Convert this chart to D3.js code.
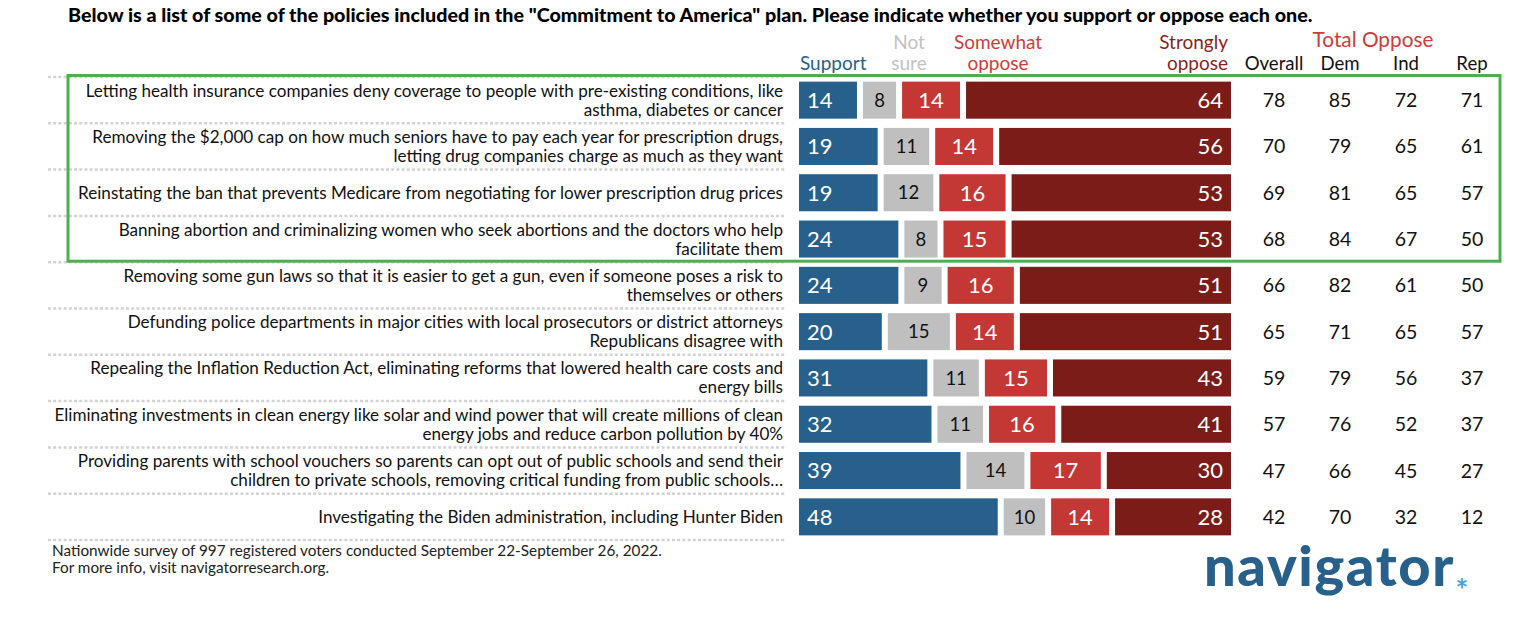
<!DOCTYPE html>
<html>
<head>
<meta charset="utf-8">
<script src="https://cdn.jsdelivr.net/npm/d3@7"></script>
<style>
  html, body { margin: 0; padding: 0; background: #fff; }
  svg { display: block; font-family: Lato, "Open Sans", sans-serif; }
</style>
</head>
<body>
<svg id="chart" width="1536" height="625"></svg>
<script>
// ---------- DATA ----------
const labels = [
  ["Letting health insurance companies deny coverage to people with pre-existing conditions, like", "asthma, diabetes or cancer"],
  ["Removing the $2,000 cap on how much seniors have to pay each year for prescription drugs,", "letting drug companies charge as much as they want"],
  ["Reinstating the ban that prevents Medicare from negotiating for lower prescription drug prices"],
  ["Banning abortion and criminalizing women who seek abortions and the doctors who help", "facilitate them"],
  ["Removing some gun laws so that it is easier to get a gun, even if someone poses a risk to", "themselves or others"],
  ["Defunding police departments in major cities with local prosecutors or district attorneys", "Republicans disagree with"],
  ["Repealing the Inflation Reduction Act, eliminating reforms that lowered health care costs and", "energy bills"],
  ["Eliminating investments in clean energy like solar and wind power that will create millions of clean", "energy jobs and reduce carbon pollution by 40%"],
  ["Providing parents with school vouchers so parents can opt out of public schools and send their", "children to private schools, removing critical funding from public schools…"],
  ["Investigating the Biden administration, including Hunter Biden"]
];
const support   = [14, 19, 19, 24, 24, 20, 31, 32, 39, 48];
const notSure   = [8, 11, 12, 8, 9, 15, 11, 11, 14, 10];
const somewhat  = [14, 14, 16, 15, 16, 14, 15, 16, 17, 14];
const strongly  = [64, 56, 53, 53, 51, 51, 43, 41, 30, 28];
const overall   = [78, 70, 69, 68, 66, 65, 59, 57, 47, 42];
const dem       = [85, 79, 81, 84, 82, 71, 79, 76, 66, 70];
const ind       = [72, 65, 65, 67, 61, 65, 56, 52, 45, 32];
const rep       = [71, 61, 57, 50, 50, 57, 37, 37, 27, 12];
const seriesNames = ["Support", "Not sure", "Somewhat oppose", "Strongly oppose"];
const oppColumns = ["Overall", "Dem", "Ind", "Rep"];
const title = 'Below is a list of some of the policies included in the "Commitment to America" plan. Please indicate whether you support or oppose each one.';
const footer = ["Nationwide survey of 997 registered voters conducted September 22-September 26, 2022.", "For more info, visit navigatorresearch.org."];

// ---------- STYLE ----------
const colors = { "Support": "#27608a", "Not sure": "#bfbfbf", "Somewhat oppose": "#c33734", "Strongly oppose": "#7b1c18" };
const headColors = { "Support": "#27608a", "Not sure": "#c2c2c2", "Somewhat oppose": "#cf3b3b", "Strongly oppose": "#8a1f1b" };
const textColors = { "Support": "#fff", "Not sure": "#111", "Somewhat oppose": "#fff", "Strongly oppose": "#fff" };

const svg = d3.select("#chart");
const n = labels.length;
const rows = d3.range(n);

const barLeft = 799, barRight = 1231, gap = 6;
const x = d3.scaleLinear().domain([0, 100]).range([0, barRight - barLeft - 3 * gap]);
const y = d3.scaleBand().domain(rows).range([77, 540]).paddingInner(0.2).paddingOuter(0.1);
const cy = i => y(i) + y.bandwidth() / 2;

// Title
svg.append("text").attr("x", 68).attr("y", 22)
  .attr("font-size", 19.7).attr("font-weight", 900).attr("fill", "#000")
  .text(title);

// Dotted separators
const lineYs = rows.map(i => y(i) - y.step() * y.paddingInner() / 2).concat([y(n - 1) + y.bandwidth() + y.step() * y.paddingInner() / 2]);
svg.selectAll("line.sep").data(lineYs).join("line")
  .attr("class", "sep")
  .attr("x1", 48).attr("x2", 786)
  .attr("y1", d => d).attr("y2", d => d)
  .attr("stroke", "#d2d2d2").attr("stroke-width", 2.5)
  .attr("stroke-dasharray", "3,2.2");

// Row labels
const lab = svg.selectAll("text.lab").data(rows).join("text")
  .attr("class", "lab")
  .attr("text-anchor", "end")
  .attr("font-size", 17.1).attr("fill", "#111");
lab.each(function (i) {
  const lines = labels[i];
  const t = d3.select(this);
  const lh = 19;
  lines.forEach((ln, k) => {
    t.append("tspan").attr("x", 783)
      .attr("y", cy(i) + (k - (lines.length - 1) / 2) * lh)
      .attr("dy", "0.35em")
      .text(ln);
  });
});

// Stacked bars with gaps
const seriesVals = [support, notSure, somewhat, strongly];
const segs = [];
rows.forEach(i => {
  let pos = barLeft;
  seriesVals.forEach((arr, s) => {
    const w = x(arr[i]);
    segs.push({ row: i, s, name: seriesNames[s], v: arr[i], x0: pos, w });
    pos += w + gap;
  });
});
svg.selectAll("rect.bar").data(segs).join("rect")
  .attr("class", "bar")
  .attr("x", d => d.x0).attr("width", d => d.w)
  .attr("y", d => y(d.row)).attr("height", y.bandwidth())
  .attr("fill", d => colors[d.name]);

svg.selectAll("text.val").data(segs).join("text")
  .attr("class", "val")
  .attr("x", d => d.s === 0 ? d.x0 + 8 : d.s === 3 ? d.x0 + d.w - 8 : d.x0 + d.w / 2)
  .attr("y", d => cy(d.row)).attr("dy", "0.36em")
  .attr("text-anchor", d => d.s === 0 ? "start" : d.s === 3 ? "end" : "middle")
  .attr("font-size", d => d.s === 1 ? 18.5 : 22)
  .attr("fill", d => textColors[d.name])
  .text(d => d.v);

// Column headers
const heads = [
  { name: "Support", lines: ["Support"], x: 800, anchor: "start" },
  { name: "Not sure", lines: ["Not", "sure"], x: 909, anchor: "middle" },
  { name: "Somewhat oppose", lines: ["Somewhat", "oppose"], x: 998, anchor: "middle" },
  { name: "Strongly oppose", lines: ["Strongly", "oppose"], x: 1228, anchor: "end" }
];
heads.forEach(h => {
  const t = svg.append("text").attr("text-anchor", h.anchor)
    .attr("font-size", 19).attr("fill", headColors[h.name]);
  h.lines.forEach((ln, k) => {
    const yy = h.lines.length === 1 ? 63 : 42 + k * 21;
    t.append("tspan").attr("x", h.x).attr("y", yy).attr("dy", "0.35em").text(ln);
  });
});

// Total oppose columns
const oppX = d3.scalePoint().domain(oppColumns).range([1274, 1472]);
svg.append("text").attr("x", 1373).attr("y", 40).attr("dy", "0.35em")
  .attr("text-anchor", "middle").attr("font-size", 20.8).attr("fill", "#cf3b3b")
  .text("Total Oppose");
svg.selectAll("text.ochead").data(oppColumns).join("text")
  .attr("class", "ochead")
  .attr("x", d => oppX(d)).attr("y", 63).attr("dy", "0.35em")
  .attr("text-anchor", "middle").attr("font-size", 18.6).attr("fill", "#111")
  .text(d => d);
const oppData = [overall, dem, ind, rep];
oppColumns.forEach((c, k) => {
  svg.selectAll("text.oc" + k).data(rows).join("text")
    .attr("class", "oc" + k)
    .attr("x", oppX(c)).attr("y", i => cy(i)).attr("dy", "0.36em")
    .attr("text-anchor", "middle").attr("font-size", 19.5).attr("fill", "#111")
    .text(i => oppData[k][i]);
});

// Green highlight box around first four rows
const boxTop = lineYs[0] - 1.5, boxBot = lineYs[4] - 1;
svg.append("rect")
  .attr("x", 68).attr("y", boxTop)
  .attr("width", 1500 - 68).attr("height", boxBot - boxTop)
  .attr("fill", "none").attr("stroke", "#4fae52").attr("stroke-width", 3);

// Footer
footer.forEach((f, k) => {
  svg.append("text").attr("x", 52).attr("y", 551 + k * 17).attr("dy", "0.35em")
    .attr("font-size", 15.3).attr("fill", "#222").text(f);
});

// Logo
svg.append("text").attr("x", 1204).attr("y", 586)
  .attr("font-size", 56).attr("font-weight", 900).attr("fill", "#27608a")
  .attr("letter-spacing", 1.6)
  .text("navigator");
svg.append("text").attr("x", 1462).attr("y", 601)
  .attr("text-anchor", "middle")
  .attr("font-size", 30).attr("font-weight", 700).attr("fill", "#4aa3dc")
  .text("*");
</script>
</body>
</html>
